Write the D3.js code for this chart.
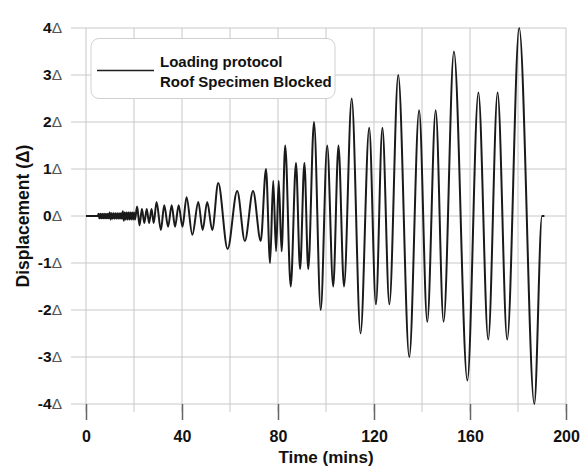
<!DOCTYPE html>
<html>
<head>
<meta charset="utf-8">
<script src="https://cdn.jsdelivr.net/npm/d3@7"></script>
<style>
  html, body { margin: 0; padding: 0; background: #fff; }
  svg { display: block; }
  text { font-family: "Liberation Sans", Arial, sans-serif; }
</style>
</head>
<body>
<svg id="chart" width="581" height="476"></svg>
<script>
// ---- data ----
// time of each turning point (mins) and displacement at it (in Δ)
const peakTimes = [
  0, 5.0,
  5.20, 5.59, 5.98, 6.37, 6.76, 7.15, 7.54, 7.93, 8.32, 8.71, 9.10, 9.49,
  9.88, 10.27, 10.66, 11.05, 11.44, 11.83, 12.22, 12.61, 13.00, 13.39, 13.78, 14.17, 14.56, 14.95,
  15.34, 15.73, 16.12, 16.51, 16.90, 17.29, 17.68, 18.07, 18.46, 18.85, 19.24, 19.63, 20.02, 20.41,
  21.3, 22.3, 23.3, 24.3, 25.3, 26.3, 27.3, 28.2,
  29.4, 31.2, 32.6, 34.2, 35.7, 37.1, 38.6, 40.2,
  41.9, 44.3, 46.8, 48.6, 50.5, 52.6,
  55.1, 59.0, 63.0, 66.2, 69.6, 72.8,
  75.0, 76.7, 78.0, 79.2, 80.3, 81.5,
  83.0, 85.3, 87.5, 89.2, 91.0, 92.6,
  95.0, 97.8, 100.5, 103.0, 105.2, 107.5,
  110.7, 114.4, 118.0, 120.8, 123.5, 126.4,
  130.1, 134.7, 138.8, 142.2, 145.7, 149.0,
  153.3, 158.9, 163.5, 167.6, 171.5, 175.5,
  180.5, 186.8, 190.0, 191.0
];
const peakValues = [
  0, 0,
  0.05, -0.05, 0.05, -0.05, 0.05, -0.05, 0.05, -0.05, 0.05, -0.05, 0.05, -0.05,
  0.075, -0.075, 0.056, -0.056, 0.056, -0.056, 0.056, -0.056, 0.056, -0.056, 0.056, -0.056, 0.056, -0.056,
  0.10, -0.10, 0.075, -0.075, 0.075, -0.075, 0.075, -0.075, 0.075, -0.075, 0.075, -0.075, 0.075, -0.075,
  0.20, -0.20, 0.15, -0.15, 0.15, -0.15, 0.15, -0.15,
  0.30, -0.30, 0.23, -0.23, 0.23, -0.23, 0.23, -0.23,
  0.40, -0.40, 0.30, -0.30, 0.30, -0.30,
  0.70, -0.70, 0.53, -0.53, 0.53, -0.53,
  1.00, -1.00, 0.75, -0.75, 0.75, -0.75,
  1.50, -1.50, 1.13, -1.13, 1.13, -1.13,
  2.00, -2.00, 1.50, -1.50, 1.50, -1.50,
  2.50, -2.50, 1.88, -1.88, 1.88, -1.88,
  3.00, -3.00, 2.25, -2.25, 2.25, -2.25,
  3.50, -3.50, 2.63, -2.63, 2.63, -2.63,
  4.00, -4.00, 0, 0
];
const xTicks = [0, 40, 80, 120, 160, 200];
const xGrid = [0, 20, 40, 60, 80, 100, 120, 140, 160, 180, 200];
const yTicks = [-4, -3, -2, -1, 0, 1, 2, 3, 4];
const legendLines = ["Loading protocol", "Roof Specimen Blocked"];
const xTitle = "Time (mins)";
const yTitle = "Displacement (\u0394)";

// ---- drawing ----
const svg = d3.select("#chart");
const x = d3.scaleLinear().domain([0, 200]).range([86, 566]);
const y = d3.scaleLinear().domain([-4, 4]).range([404, 28]);

const grid = svg.append("g").attr("stroke", "#c8c8c8").attr("stroke-width", 1);
grid.selectAll("line.v").data(xGrid).join("line")
  .attr("x1", d => x(d)).attr("x2", d => x(d))
  .attr("y1", y(4)).attr("y2", 412);
grid.selectAll("line.h").data(yTicks).join("line")
  .attr("x1", 71).attr("x2", x(200))
  .attr("y1", d => y(d)).attr("y2", d => y(d));

// x axis
const xAxis = d3.axisBottom(x).tickValues(xTicks).tickSize(16).tickPadding(11).tickFormat(d3.format("d"));
const gx = svg.append("g").attr("transform", `translate(0,${y(-4)})`).call(xAxis);
gx.select(".domain").remove();
gx.selectAll(".tick line").attr("stroke", "#666").attr("stroke-width", 1.5);
gx.selectAll(".tick text").attr("fill", "#111").attr("font-size", 16).attr("font-weight", "bold")
  .attr("font-family", "Liberation Sans, Arial, sans-serif");

// y axis
const yAxis = d3.axisLeft(y).tickValues(yTicks).tickSize(0).tickPadding(0);
const gy = svg.append("g").attr("transform", "translate(62,0)").call(yAxis);
gy.select(".domain").remove();
gy.selectAll(".tick text").each(function(d) {
  const t = d3.select(this);
  t.text(null).attr("font-size", 15.5).attr("font-family", "Liberation Sans, Arial, sans-serif");
  t.append("tspan").attr("font-weight", "bold").attr("fill", "#111").text(String(d));
  t.append("tspan").attr("font-weight", "normal").attr("fill", "#555").text("\u0394");
});

// titles
svg.append("text").attr("x", 326).attr("y", 463).attr("text-anchor", "middle")
  .attr("font-size", 17).attr("font-weight", "bold").attr("fill", "#111").text(xTitle);
svg.append("text").attr("transform", "translate(29,216) rotate(-90)").attr("text-anchor", "middle")
  .attr("font-size", 17.5).attr("font-weight", "bold").attr("fill", "#111").text(yTitle);

// series
const pts = peakTimes.map((t, i) => [t, peakValues[i]]);
const line = d3.line().x(d => x(d[0])).y(d => y(d[1])).curve(d3.curveMonotoneX);
svg.append("path").datum(pts).attr("d", line)
  .attr("fill", "none").attr("stroke", "#1a1a1a").attr("stroke-width", 2)
  .attr("stroke-linejoin", "round");

// legend
const lg = svg.append("g");
lg.append("rect").attr("x", 91).attr("y", 38.5).attr("width", 244).attr("height", 60)
  .attr("rx", 8).attr("fill", "#fff").attr("stroke", "#d0d0d0").attr("stroke-width", 1);
lg.append("line").attr("x1", 97).attr("x2", 154).attr("y1", 70.5).attr("y2", 70.5)
  .attr("stroke", "#1e1e1e").attr("stroke-width", 1.4);
lg.selectAll("text").data(legendLines).join("text")
  .attr("x", 160).attr("y", (d, i) => 67 + i * 19.5)
  .attr("font-size", 15).attr("font-weight", "bold").attr("fill", "#111").text(d => d);
</script>
</body>
</html>
